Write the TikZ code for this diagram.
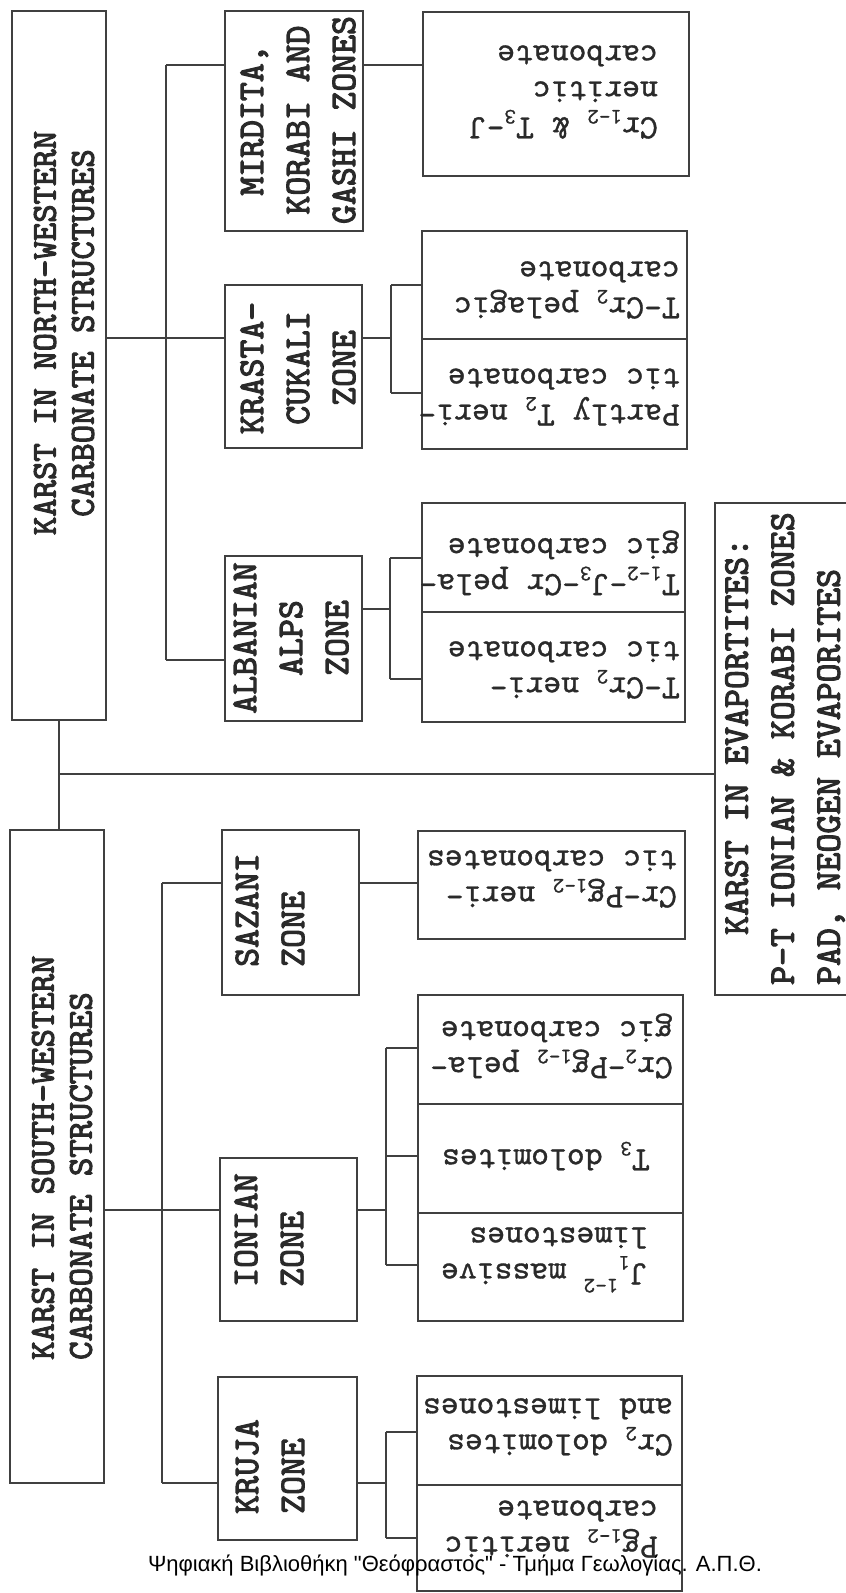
\documentclass[tikz,border=0pt]{standalone}
\usepackage{fontspec}
\newfontfamily\wmfont{Liberation Sans}
\newfontfamily\boldtt{lmmono10-regular}[Extension=.otf, FakeBold=3]
\newfontfamily\leaftt{lmmono10-regular}[Extension=.otf, FakeBold=1]
\definecolor{lc}{HTML}{404040}
\definecolor{tc}{HTML}{2A2A2A}
\newcommand\lsub[1]{\raisebox{-0.22em}{\fontsize{22}{22}\selectfont #1}}
\newcommand\lsup[1]{\raisebox{0.45em}{\fontsize{22}{22}\selectfont #1}}
\newcommand\bxn[5]{\node[bx, minimum width={(#4)-(#2)}, minimum height={(#5)-(#3)}] (#1) at ({((#2)+(#4))/2},{((#3)+(#5))/2}) {};}
\begin{document}
\begin{tikzpicture}[x=1pt,y=-1pt,
  bx/.style={draw=lc, line width=2.4pt, inner sep=0pt, outer sep=0pt},
  ln/.style={draw=lc, line width=1.5pt},
  mt/.style={font=\boldtt\fontsize{35}{38}\selectfont, rotate=90, inner sep=0pt, text=tc},
  zt/.style={font=\boldtt\fontsize{36}{46}\selectfont, rotate=90, inner sep=0pt, text=tc, align=center},
  lt/.style={font=\leaftt\fontsize{34}{36}\selectfont, rotate=180, inner sep=0pt, anchor=west, align=left, text=tc}]
\path[use as bounding box, fill=white] (0,0) rectangle (846,1593);
\clip (0,0) rectangle (846,1593);
% boxes
\bxn{nw}{12}{11}{106}{720}
\bxn{sw}{10}{830}{104}{1483}
\bxn{mi}{225}{11}{363}{231}
\bxn{kr}{225}{285}{362}{448}
\bxn{al}{225}{556}{362}{721}
\bxn{sa}{222}{830}{359}{995}
\bxn{io}{220}{1158}{357}{1321}
\bxn{ku}{218}{1377}{357}{1540}
\bxn{ev}{715}{503}{880}{995}
\bxn{lmi}{423}{12}{689}{176}
\bxn{lkra}{422}{231}{687}{339}
\bxn{lkrb}{422}{339}{687}{449}
\bxn{lala}{422}{503}{685}{612}
\bxn{lalb}{422}{612}{685}{722}
\bxn{lsa}{418}{831}{685}{939}
\bxn{lioa}{418}{995}{683}{1104}
\bxn{liob}{418}{1104}{683}{1213}
\bxn{lioc}{418}{1213}{683}{1321}
\bxn{lkua}{417}{1376}{682}{1485}
\bxn{lkub}{417}{1485}{682}{1591}
% north-western tree
\coordinate (j1) at (166,338);
\coordinate (j1t) at (166,65);
\coordinate (j1b) at (166,660);
\draw[ln] (nw.east |- j1) -- (j1);
\draw[ln] (j1t) -- (j1b);
\draw[ln] (j1t) -- (mi.west |- j1t);
\draw[ln] (j1) -- (kr.west |- j1);
\draw[ln] (j1b) -- (al.west |- j1b);
\draw[ln] (mi.east |- j1t) -- (lmi.west |- j1t);
\coordinate (j2) at (391,338);
\coordinate (j2t) at (391,285);
\coordinate (j2b) at (391,393);
\draw[ln] (kr.east |- j2) -- (j2);
\draw[ln] (j2t) -- (j2b);
\draw[ln] (j2t) -- (lkra.west |- j2t);
\draw[ln] (j2b) -- (lkrb.west |- j2b);
\coordinate (j3) at (390,609);
\coordinate (j3t) at (390,558);
\coordinate (j3b) at (390,679);
\draw[ln] (al.east |- j3) -- (j3);
\draw[ln] (j3t) -- (j3b);
\draw[ln] (j3t) -- (lala.west |- j3t);
\draw[ln] (j3b) -- (lalb.west |- j3b);
% trunk
\coordinate (j0) at (59,774);
\draw[ln] (nw.south) -- (nw.south |- sw.north);
\draw[ln] (j0) -- (ev.west |- j0);
% south-western tree
\coordinate (j4) at (162,1210);
\coordinate (j4t) at (162,883);
\coordinate (j4b) at (162,1483);
\draw[ln] (sw.east |- j4) -- (j4);
\draw[ln] (j4t) -- (j4b);
\draw[ln] (j4t) -- (sa.west |- j4t);
\draw[ln] (j4) -- (io.west |- j4);
\draw[ln] (j4b) -- (ku.west |- j4b);
\draw[ln] (sa.east |- j4t) -- (lsa.west |- j4t);
\coordinate (j5) at (386,1210);
\coordinate (j5t) at (386,1048);
\coordinate (j5m) at (386,1156);
\coordinate (j5b) at (386,1265);
\draw[ln] (io.east |- j5) -- (j5);
\draw[ln] (j5t) -- (j5b);
\draw[ln] (j5t) -- (lioa.west |- j5t);
\draw[ln] (j5m) -- (liob.west |- j5m);
\draw[ln] (j5b) -- (lioc.west |- j5b);
\coordinate (j6) at (386,1483);
\coordinate (j6t) at (386,1432);
\coordinate (j6b) at (386,1538);
\draw[ln] (ku.east |- j6) -- (j6);
\draw[ln] (j6t) -- (j6b);
\draw[ln] (j6t) -- (lkua.west |- j6t);
\draw[ln] (j6b) -- (lkub.west |- j6b);
% texts
\node[mt, align=center] (nwt) at (64,333) {KARST IN NORTH-WESTERN\\CARBONATE STRUCTURES};
\node[mt, align=left, anchor=west] (swt) at (62,1360) {KARST IN SOUTH-WESTERN\\CARBONATE STRUCTURES};
\node[zt] (mit) at (298,120) {MIRDITA,\\KORABI AND\\GASHI ZONES};
\node[zt] (krt) at (298,368) {KRASTA-\\CUKALI\\ZONE};
\node[zt] (alt) at (291,638) {ALBANIAN\\ALPS\\ZONE};
\node[zt, align=left, anchor=west] (sat) at (270,967) {SAZANI\\ZONE};
\node[zt, align=left, anchor=west] (iot) at (269,1287) {IONIAN\\ZONE};
\node[zt, align=left, anchor=west] (kut) at (270,1514) {KRUJA\\ZONE};
\node[zt, align=left, anchor=west] (evt) at (785,985) {\hspace*{50pt}KARST IN EVAPORTITES:\\P-T IONIAN \& KORABI ZONES\\PAD, NEOGEN EVAPORITES};
\node[lt] (lmit) at (658,92) {Cr\lsub{1-2} \& T\lsub{3}-J\\neritic\\carbonate};
\node[lt] (lkrat) at (680,290) {T-Cr\lsub{2} pelagic\\carbonate};
\node[lt] (lkrbt) at (680,397) {Partly T\lsub{2} neri-\\tic carbonate};
\node[lt] (lalat) at (680,563) {T\lsub{1-2}-J\lsub{3}-Cr pela-\\gic carbonate};
\node[lt] (lalbt) at (680,670) {T-Cr\lsub{2} neri-\\tic carbonate};
\node[lt] (lsat) at (677,879) {Cr-Pg\lsub{1-2} neri-\\tic carbonates};
\node[lt] (lioat) at (673,1046) {Cr\lsub{2}-Pg\lsub{1-2} pela-\\gic carbonate};
\node[lt] (liobt) at (650,1156) {T\lsub{3} dolomites};
\node[lt] (lioct) at (648,1260) {J\lsub{1}\lsup{1-2} massive\\limestones};
\node[lt] (lkuat) at (673,1427) {Cr\lsub{2} dolomites\\and limestones};
\node[lt] (lkubt) at (658,1529) {Pg\lsub{1-2} neritic\\carbonate};
\node[font=\wmfont\fontsize{22}{24}\selectfont, inner sep=0pt, text=black] (wm) at (455,1565) {Ψηφιακή Βιβλιοθήκη "Θεόφραστος" - Τμήμα Γεωλογίας. Α.Π.Θ.};
\end{tikzpicture}
\end{document}
